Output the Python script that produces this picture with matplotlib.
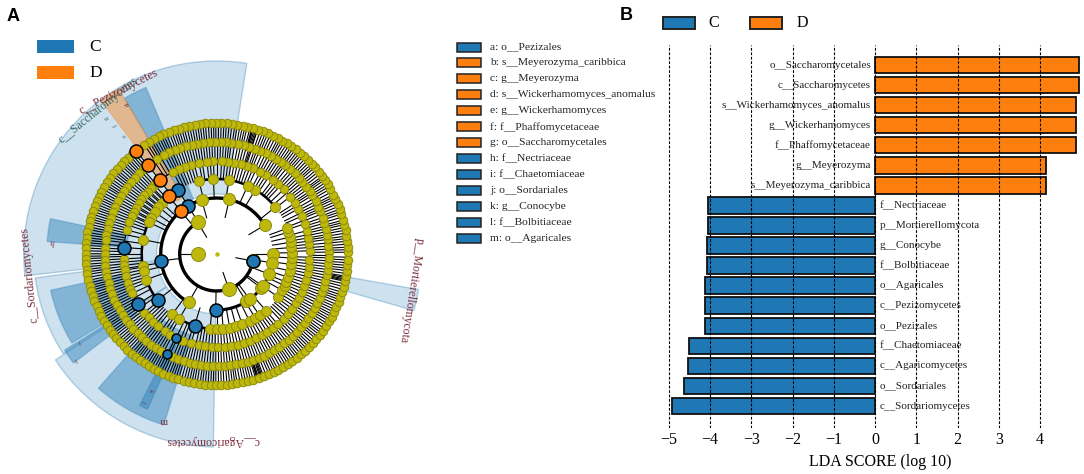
import matplotlib
matplotlib.use("Agg")
import matplotlib.pyplot as plt
from matplotlib.patches import Wedge, Arc, Rectangle
import numpy as np

plt.rcParams['font.family'] = ['Liberation Serif', 'DejaVu Serif']

BLUE = '#1f77b4'
ORANGE = '#ff7f0e'
YELLOW = '#bdb80a'
MAROON = '#7b2d3b'

# panel B
taxa = ['o__Saccharomycetales', 'c__Saccharomycetes', 's__Wickerhamomyces_anomalus',
        'g__Wickerhamomyces', 'f__Phaffomycetaceae', 'g__Meyerozyma', 's__Meyerozyma_caribbica',
        'f__Nectriaceae', 'p__Mortierellomycota', 'g__Conocybe', 'f__Bolbitiaceae',
        'o__Agaricales', 'c__Pezizomycetes', 'o__Pezizales', 'f__Chaetomiaceae',
        'c__Agaricomycetes', 'o__Sordariales', 'c__Sordariomycetes']
lda = [4.95, 4.95, 4.88, 4.88, 4.88, 4.14, 4.14,
       -4.05, -4.05, -4.07, -4.07, -4.11, -4.13, -4.13, -4.52, -4.54, -4.62, -4.91]
ticks = [-5, -4, -3, -2, -1, 0, 1, 2, 3, 4]

# key between the panels
key_names = ['a: o__Pezizales', 'b: s__Meyerozyma_caribbica', 'c: g__Meyerozyma',
             'd: s__Wickerhamomyces_anomalus', 'e: g__Wickerhamomyces', 'f: f__Phaffomycetaceae',
             'g: o__Saccharomycetales', 'h: f__Nectriaceae', 'i: f__Chaetomiaceae',
             'j: o__Sordariales', 'k: g__Conocybe', 'l: f__Bolbitiaceae', 'm: o__Agaricales']
key_groups = ['C', 'D', 'D', 'D', 'D', 'D', 'D', 'C', 'C', 'C', 'C', 'C', 'C']

# panel A wedges: start angle, end angle, outer radius, inner radius, colour, darker or not
wedge_start = [81, 187.5, 213.3, 344, 113, 120.7, 168, 192.3, 212.3, 228.6, 243]
wedge_end = [186.5, 213, 269, 350, 120.7, 127, 175.8, 211.6, 217.3, 252.8, 246]
wedge_outer = [193, 183, 193, 205, 181, 192, 170, 170, 180, 179, 170]
wedge_inner = [60, 60, 60, 130, 60, 66, 90, 90, 100, 85, 100]
wedge_colour = ['C', 'C', 'C', 'C', 'C', 'D', 'C', 'C', 'C', 'C', 'C']
wedge_dark = [0, 0, 0, 0, 1, 1, 1, 1, 1, 1, 1]

# cladogram nodes, angle in degrees per level
level_r = [19, 37, 56, 75, 93, 112, 131]
lvl1 = [180]
lvl2 = [121, 289, 349]
lvl3 = [31, 77, 105.5, 120.5, 130, 187, 239.8, 269, 302, 306, 322.6, 0, 351, 339, 325]
lvl4 = [38.7, 59, 65.6, 80.5, 92.5, 103.6, 121, 129.8, 137, 141, 146, 151, 155, 169, 189, 193, 200,
        218, 233.6, 240, 252.8, 265, 270, 275, 280, 285, 290, 296, 301, 305, 311, 325,
        331, 335, 338, 342, 347, 352, 357, 1, 5, 9, 13, 17, 20]
lvl5 = [2, 6, 10, 14.5, 19, 24, 29, 33, 38, 44, 49, 53, 58, 62, 67, 71, 75, 79, 83, 87, 92, 96, 101,
        106, 110, 114, 118, 127.7, 132, 135, 138, 141, 144, 147, 150, 153, 156, 160, 165, 176,
        183, 187, 190, 194, 198, 202, 205, 212.5, 219, 223, 227, 231, 236, 240, 244.2, 249, 254,
        259, 263, 267, 271, 275, 279, 283, 287, 291, 295, 299, 303, 307, 311, 316, 320, 324, 328,
        332, 336, 340, 344, 348, 352, 356]
lvl6 = [1, 4, 7.5, 10, 13, 16, 19, 22.5, 25, 28, 31.5, 34, 37, 40, 43, 46, 49, 52.5, 55, 58, 61, 64,
        67.5, 70, 73, 76, 79, 82.5, 85, 88, 91, 94, 97, 100, 103, 106, 109, 112, 115, 118, 122,
        127.7, 131, 134, 137, 140, 143, 146, 149, 152, 155, 158, 161, 164, 167, 170, 173, 177, 180,
        183, 186, 189, 192, 195, 198, 201, 204, 207, 210, 213, 216, 219, 222, 225, 228, 231, 234,
        237, 240, 243.8, 247, 250, 253, 256, 259, 262, 265, 268, 271, 274, 277, 280, 283, 286, 289,
        292, 295, 298, 301, 304, 307, 310, 313, 316, 319, 322, 325, 328, 331, 334, 337, 340, 343,
        346, 349, 352, 355, 358]
lvl7 = [0.8, 3, 5.6, 7.9, 10.5, 13, 15, 17.8, 20, 22.6, 25, 27, 29.8, 32.1, 34.5, 36.4, 39, 41.5, 43.6,
        46, 48.5, 50.7, 53, 55.2, 57.6, 60, 62, 64.6, 67, 69.3, 71.8, 74, 76.5, 78.6, 80.9, 83.3,
        85.7, 88, 90.4, 92.5, 95, 97.3, 99.6, 102, 104.5, 106.8, 109, 111.4, 114, 116.2, 118.7, 121,
        123.5, 127.9, 130.4, 132.7, 135, 137.2, 139.8, 142, 144.5, 146.9, 149, 151.6, 154, 156.3,
        158.7, 161, 163.4, 165.6, 168, 170.5, 172.8, 175, 177.4, 179.9, 182, 184.5, 186.8, 189,
        191.6, 194, 196.2, 198.7, 201, 203.5, 205.8, 208, 210.6, 213, 215.3, 217.7, 220, 222.4,
        224.7, 227, 229.5, 231.8, 234, 236.6, 239, 241.3, 243.6, 246, 248.5, 250.7, 253, 255.6,
        258, 260.2, 262.7, 265, 267.4, 269.6, 272, 274.5, 276.9, 279, 281.6, 284, 286.2, 288.7,
        291, 293.5, 295.8, 298, 300.6, 303, 305.3, 307.7, 310, 312.4, 314.7, 317, 319.5, 321.8,
        324, 326.6, 329, 331.3, 333.6, 336, 338.5, 340.7, 343, 345.6, 348, 350.2, 352.7, 355, 357.4]
levels = [lvl1, lvl2, lvl3, lvl4, lvl5, lvl6, lvl7]

# extra leaf lines with no visible node of their own
stripes5 = [4, 8, 12, 21, 26, 31, 41, 47, 51, 56, 60, 65, 69, 73, 77, 81, 85, 90, 94, 99, 104, 108, 112,
            116, 134, 137, 140, 143, 146, 149, 152, 155, 158, 162, 168, 172, 180, 185, 189, 192, 196, 200,
            208, 215, 221, 225, 229, 234, 238, 247, 252, 257, 261, 265, 269, 273, 277, 281, 285, 289, 293,
            297, 301, 305, 309, 314, 318, 322, 326, 330, 334, 338, 342, 346, 350, 354, 358]
stripes6 = [2.5, 5.7, 8.8, 11.5, 14.4, 17.5, 20.8, 23.7, 26.5, 29.7, 32.8, 35.5, 38.5, 41.5, 44.4, 47.5,
            50.8, 53.7, 56.5, 59.4, 62.5, 65.7, 68.8, 71.5, 72.2, 74.5, 77.5, 80.7, 83.7, 86.5, 89.5, 92.5,
            95.5, 98.5, 101.5, 104.5, 107.5, 110.5, 113.5, 116.5, 120, 124, 132.5, 135.5, 138.5, 141.5,
            144.5, 147.5, 150.5, 153.5, 156.5, 159.5, 162.5, 165.5, 168.5, 171.5, 175, 178.5, 181.5, 184.5,
            187.5, 190.5, 193.5, 196.5, 199.5, 202.5, 205.5, 208.5, 211.5, 214.5, 217.5, 220.5, 223.5,
            226.5, 229.5, 232.5, 235.5, 238.5, 241.5, 245, 248.5, 251.5, 254.5, 257.5, 260.5, 263.5, 266.5,
            269.5, 272.5, 275.5, 278.5, 281.5, 284.5, 287.5, 290.5, 293.5, 296.5, 299.5, 302.5, 305.5,
            308.5, 311.5, 314.5, 317.5, 320.5, 323.5, 326.5, 329.5, 332.5, 335.5, 338.5, 341.5, 344.5,
            347.5, 350.5, 353.5, 356.5, 359.2]
stripes7 = [1.9, 4.3, 6.8, 9.2, 11.7, 14, 16.4, 18.9, 21.3, 23.8, 26, 28.4, 31, 33.3, 35.5, 37.7, 40.2, 42.5,
            44.8, 47.2, 49.6, 51.8, 54.1, 56.4, 58.8, 61, 63.3, 65.8, 68.1, 70.5, 72, 72.6, 73.2, 73.8, 74.4,
            75.2, 77.5, 79.7, 82, 84.5, 86.8, 89.2, 91.4, 93.7, 96.1, 98.4, 100.8, 103.2, 105.6, 107.9, 110.2,
            112.7, 115.1, 117.4, 119.8, 122.2, 129.2, 131.5, 133.8, 136.1, 138.5, 140.9, 143.2, 145.7, 148,
            150.3, 152.8, 155.1, 157.5, 159.8, 162.2, 164.5, 166.8, 169.2, 171.6, 173.9, 176.2, 178.6, 181,
            183.2, 185.6, 187.9, 190.3, 192.8, 195.1, 197.4, 199.8, 202.2, 204.6, 206.9, 209.3, 211.8, 214.1,
            216.5, 218.8, 221.2, 223.5, 225.8, 228.2, 230.6, 232.9, 235.3, 237.8, 240.1, 242.4, 244.8, 247.2,
            249.6, 251.8, 254.3, 256.8, 259.1, 261.4, 263.8, 266.2, 268.5, 270.8, 273.2, 275.7, 278, 280.3,
            282.8, 285.1, 287.4, 288, 288.3, 289.4, 289.9, 290.4, 292.2, 294.6, 296.9, 299.3, 301.8, 304.1,
            306.5, 308.8, 311.2, 313.5, 315.8, 318.2, 320.6, 322.9, 325.3, 327.8, 330.1, 332.4, 334.8, 337.2,
            339.6, 341.8, 344.3, 346.8, 348.5, 349, 349.6, 351.4, 353.8, 356.2, 358.6]
stripes = [None, None, None, None, stripes5, stripes6, stripes7]

# coloured nodes: level index, angle
blue_nodes = [(1, 349), (2, 120.5), (2, 187), (2, 269), (3, 121), (3, 218), (3, 252.8),
              (4, 176), (4, 212.5), (4, 244.2), (5, 243.8)]
orange_nodes = [(2, 130), (3, 129.8), (4, 127.7), (5, 127.7), (6, 127.9)]

# arcs of the tree: radius, from, to, width
arc_r = [37, 56, 56, 56, 75, 75, 75, 93, 112]
arc_from = [121, 31, 130, 269, 38, 121, 233, 0, 0]
arc_to = [349, 130, 240, 360, 104, 218, 285, 360, 360]
arc_lw = [2.4, 2.4, 2.4, 2.2, 1.8, 1.8, 1.8, 0.8, 0.8]

fig = plt.figure(figsize=(10.84, 4.74), dpi=100)

# ---- panel A
cx, cy = 216.7, 254
ax = fig.add_axes([0, 0, 440 / 1084, 1])
ax.set_xlim(-cx, 440 - cx)
ax.set_ylim(-(474 - cy), cy)
ax.axis('off')

for i in range(len(wedge_start)):
    col = BLUE if wedge_colour[i] == 'C' else ORANGE
    a = 0.42 if wedge_dark[i] else 0.22
    w = Wedge((0, 0), wedge_outer[i], wedge_start[i], wedge_end[i],
              width=wedge_outer[i] - wedge_inner[i], fc=col, ec='none', alpha=a, zorder=1)
    ax.add_patch(w)
    w = Wedge((0, 0), wedge_outer[i], wedge_start[i], wedge_end[i],
              width=wedge_outer[i] - wedge_inner[i], fc='none', ec=col, alpha=0.3, lw=1, zorder=1)
    ax.add_patch(w)

for r, a0, a1, lw in zip(arc_r, arc_from, arc_to, arc_lw):
    ax.add_patch(Arc((0, 0), 2 * r, 2 * r, theta1=a0, theta2=a1, color='black', lw=lw, zorder=2))

node_d = [14, 14, 12, 10, 8.5, 8.5, 8.5]
for k, angs in enumerate(levels):
    t = np.radians(angs)
    r0 = level_r[k - 1] if k > 0 else 37
    r1 = level_r[k]
    line_angs = t
    if stripes[k] is not None:
        line_angs = np.concatenate([t, np.radians(stripes[k])])
    for tt in line_angs:
        ax.plot([r0 * np.cos(tt), r1 * np.cos(tt)], [r0 * np.sin(tt), r1 * np.sin(tt)],
                color='black', lw=0.8, zorder=2, solid_capstyle='butt')
    s = (node_d[k] * 0.72) ** 2
    ax.scatter(level_r[k] * np.cos(t), level_r[k] * np.sin(t), s=s, color=YELLOW,
               edgecolor='#8f8c10', linewidth=0.7, zorder=3)
ax.scatter([0], [0], s=5, color=YELLOW, zorder=3)

for nodes, col in ((blue_nodes, BLUE), (orange_nodes, ORANGE)):
    for k, ang in nodes:
        t = np.radians(ang)
        d = 13
        if col == BLUE and k >= 4 and ang > 240:
            d = 9
        ax.scatter(level_r[k] * np.cos(t), level_r[k] * np.sin(t), s=(d * 0.72) ** 2, color=col,
                   edgecolor='black', linewidth=1.1, zorder=4)

# labels around the cladogram, in pixel offsets from the centre
def label(x, y, s, rot, color=MAROON, size=8):
    ax.text(x - cx, cy - y, s, rotation=rot, color=color, fontsize=size,
            ha='center', va='center', rotation_mode='anchor', zorder=5)

label(98, 110, 'c__Saccharomycetes', 39, color='#2f6b62', size=8.5)
label(119, 92, 'c__Pezizomycetes', 27, size=8.5)
label(30, 275, 'c__Sordariomycetes', 96, size=8.5)
label(213, 441, 'c__Agaricomycetes', 180, size=8.5)
label(411, 290, 'p__Mortierellomycota', 261, size=8.5)
label(127, 104, 'a', 113, size=6)
label(107, 118, 'g', 120, color='#2f6b62', size=5)
label(116, 125, 'f', 120, color='#2f6b62', size=5)
label(125, 135, 'e', 120, color='#2f6b62', size=5)
label(53, 242, 'h', 172, size=6)
label(79, 342, 'i', 200, size=5)
label(77, 360, 'j', 215, size=5)
label(150, 390, 'k', 244, size=5)
label(143, 402, 'l', 244, size=5)
label(164, 421, 'm', 180, size=7)

# ---- overlay for legends and panel letters
ov = fig.add_axes([0, 0, 1, 1], zorder=10)
ov.set_xlim(0, 1084)
ov.set_ylim(474, 0)
ov.axis('off')

ov.text(7, 16, 'A', fontsize=13, fontweight='bold', family='Liberation Sans', ha='left', va='center')
ov.text(620, 15, 'B', fontsize=13, fontweight='bold', family='Liberation Sans', ha='left', va='center')

for y0, col, name in ((40, BLUE, 'C'), (66, ORANGE, 'D')):
    ov.add_patch(Rectangle((37, y0), 37, 13, fc=col, ec='none'))
    ov.text(89, y0 + 7, name, fontsize=12.5, ha='left', va='center')

for x0, col, name, xt in ((663, BLUE, 'C', 708), (750, ORANGE, 'D', 797)):
    ov.add_patch(Rectangle((x0, 17), 32, 12, fc=col, ec='#222222', lw=1.4))
    ov.text(xt, 23, name, fontsize=11.5, ha='left', va='center')

for i, (name, grp) in enumerate(zip(key_names, key_groups)):
    y = 47 + 15.95 * i
    ov.add_patch(Rectangle((457, y - 4.5), 24, 9, fc=BLUE if grp == 'C' else ORANGE, ec='#222222', lw=1.1))
    ov.text(490, y, name, fontsize=8.25, color='#222222', ha='left', va='center')

# ---- panel B
ax2 = fig.add_axes([640 / 1084, (474 - 428) / 474, (1084 - 640) / 1084, (428 - 45) / 474])
ypos = np.arange(len(taxa))
cols = [ORANGE if v > 0 else BLUE for v in lda]
ax2.barh(ypos, lda, height=0.82, color=cols, edgecolor='#111111', linewidth=1.3, zorder=2)
ax2.set_xlim((640 - 875) / 41.25, (1084 - 875) / 41.25)
ax2.set_ylim((428 - 65) / 20.06, (45 - 65) / 20.06)
ax2.set_xticks(ticks)
ax2.set_xticklabels([str(t).replace('-', '\u2212') for t in ticks], fontsize=11.5)
ax2.set_yticks([])
ax2.tick_params(axis='x', length=0, pad=3)
for s in ax2.spines.values():
    s.set_visible(False)
for t in ticks:
    ax2.axvline(t, color='black', lw=0.8, ls=(0, (2.5, 1.5)), zorder=3)
for y, v, name in zip(ypos, lda, taxa):
    if v > 0:
        ax2.text(-0.1, y, name, fontsize=8, color='#222222', ha='right', va='center', zorder=4)
    else:
        ax2.text(0.12, y, name, fontsize=8, color='#222222', ha='left', va='center', zorder=4)
ov.text(880, 462, 'LDA SCORE (log 10)', fontsize=11.5, ha='center', va='center')
ax2.patch.set_alpha(0)

fig.savefig('out.png', dpi=100)
